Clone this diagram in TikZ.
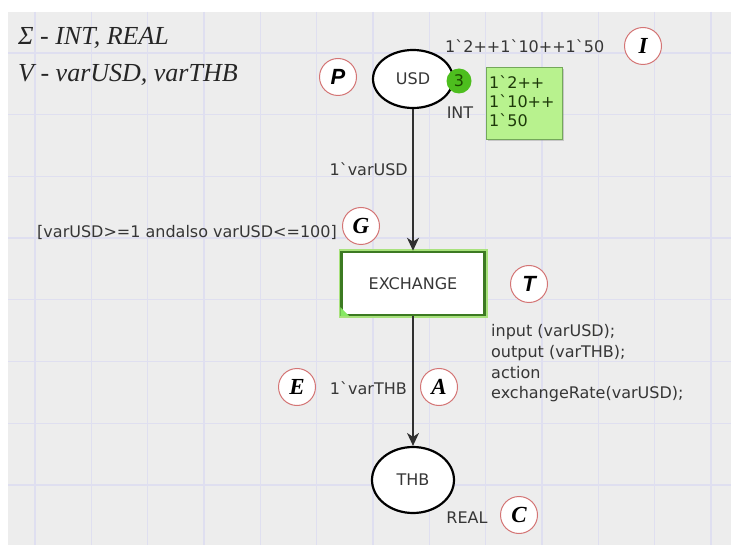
\documentclass[tikz,border=0pt]{standalone}
\usepackage{fontspec}
\setmainfont{Liberation Serif}
\newfontfamily\cpn{DejaVu Sans}[Ligatures=TeXOff]
\newfontfamily\tagserif{Liberation Serif}
\newfontfamily\tagsans{Liberation Sans}
\usetikzlibrary{shapes.geometric,arrows.meta,shadows}

\definecolor{canvas}{HTML}{EDEDED}
\definecolor{gridln}{HTML}{DFDFF0}
\definecolor{inkgray}{HTML}{363636}
\definecolor{arcgray}{HTML}{303030}
\definecolor{trborder}{HTML}{3C7A22}
\definecolor{trglow}{HTML}{A8E27C}
\definecolor{tokfill}{HTML}{4DBE1E}
\definecolor{tokink}{HTML}{1C4A00}
\definecolor{markfill}{HTML}{B8F28E}
\definecolor{markedge}{HTML}{74A85A}
\definecolor{markink}{HTML}{1E3A0A}
\definecolor{tagedge}{HTML}{D47575}

\tikzset{
  insc/.style={font=\cpn\fontsize{16}{20}\selectfont, text=inkgray, inner sep=0pt},
  place/.style={ellipse, draw=black, line width=2.2pt, fill=white, inner sep=0pt,
    minimum width=80pt, minimum height=58pt, font=\cpn\fontsize{16}{18}\selectfont, text=inkgray},
  trans/.style={rectangle, draw=trborder, line width=2.5pt, fill=white,
    preaction={draw=trglow, line width=6pt},
    minimum width=143pt, minimum height=63pt, inner sep=0pt,
    font=\cpn\fontsize{16}{20}\selectfont, text=inkgray},
  token/.style={circle, fill=tokfill, minimum size=25pt, inner sep=0pt,
    font=\cpn\fontsize{16}{18}\selectfont, text=tokink},
  markbox/.style={rectangle, fill=markfill, draw=markedge, line width=0.8pt,
    minimum width=76pt, minimum height=72pt, inner sep=0pt,
    drop shadow={shadow xshift=2pt, shadow yshift=-2pt, opacity=.35}},
  markline/.style={font=\cpn\fontsize{16}{19}\selectfont, text=markink, inner sep=0pt, anchor=base west},
  tag/.style={circle, draw=tagedge, line width=1pt, fill=white, minimum size=37pt, inner sep=0pt, text=black},
  tagser/.style={tag, font=\tagserif\bfseries\itshape\fontsize{23}{23}\selectfont},
  tagsan/.style={tag, font=\tagsans\bfseries\itshape\fontsize{22}{22}\selectfont},
  arc/.style={draw=arcgray, line width=1.3pt, -{Stealth[length=13pt,width=12pt,inset=4pt]}},
  decl/.style={font=\itshape\fontsize{26}{28}\selectfont, text=black!85, inner sep=0pt, anchor=base west}
}

\begin{document}
\begin{tikzpicture}[x=1pt,y=-1pt]
  \useasboundingbox (0,0) rectangle (731,545);
  % sheet and grid
  \fill[white] (0,0) rectangle (731,545);
  \fill[canvas] (8,12) rectangle (731,545);
  \foreach \i in {0,...,12}
    \draw[gridln, line width=1.4pt] ({35+56.33*\i},12) -- ({35+56.33*\i},545);
  \foreach \j in {0,...,7}
    \draw[gridln, line width=1.4pt] (8,{53+61.7*\j}) -- (731,{53+61.7*\j});

  % declarations
  \node[decl] (colsets) at (18,45) {Σ - INT, REAL};
  \node[decl] (vars) at (18,82) {V - varUSD, varTHB};

  % places and transition
  \node[place] (usd) at (413,79) {USD};
  \node[place, minimum width=82pt, minimum height=66pt] (thb) at (413,480) {THB};
  \node[trans] (ex) at (413,283.5) {EXCHANGE};
  \fill[trglow!80!green] (ex.south west) -- ++(9,0) -- ++(-9,-9) -- cycle;

  % arcs
  \draw[arc] (usd) -- (ex);
  \draw[arc] (ex) -- (thb);

  % marking of USD
  \node[token] (tok) at (459,81) {3};
  \node[markbox] (mk) at (524,103) {};
  \node[markline] (mk1) at (489,89) {1`2++};
  \node[markline] (mk2) at (489,108) {1`10++};
  \node[markline] (mk3) at (489,127) {1`50};

  % inscriptions
  \node[insc, anchor=base west] (imark) at (445,53) {1`2++1`10++1`50};
  \node[insc, anchor=base] (tint) at (460,119) {INT};
  \node[insc, anchor=base] (treal) at (467,523) {REAL};
  \node[insc, anchor=base east] (inarc) at (408,176) {1`varUSD};
  \node[insc, anchor=base east] (outarc) at (407,394) {1`varTHB};
  \node[insc, anchor=base east] (guard) at (337,238) {[varUSD>=1 andalso varUSD<=100]};
  \node[insc, anchor=base west] (code1) at (491,337) {input (varUSD);};
  \node[insc, anchor=base west] (code2) at (491,357) {output (varTHB);};
  \node[insc, anchor=base west] (code3) at (491,378) {action};
  \node[insc, anchor=base west] (code4) at (491,398) {exchangeRate(varUSD);};

  % element tags
  \node[tagsan] (tP) at (338,77) {P};
  \node[tagser] (tI) at (643,46) {I};
  \node[tagser] (tG) at (361,226) {G};
  \node[tagsan] (tT) at (529,284) {T};
  \node[tagser] (tE) at (297,387) {E};
  \node[tagser] (tA) at (439,387) {A};
  \node[tagser] (tC) at (519,515) {C};
\end{tikzpicture}
\end{document}
